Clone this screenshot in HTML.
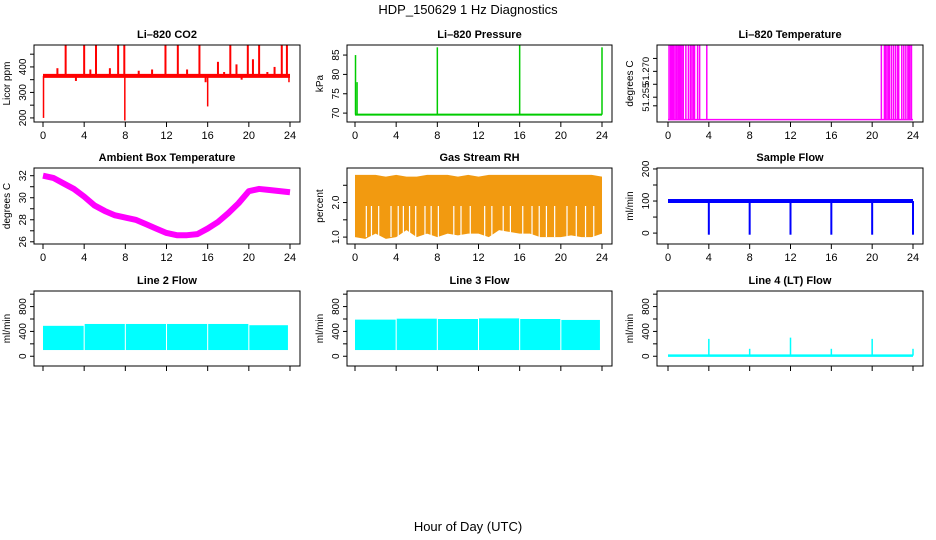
<!DOCTYPE html>
<html><head><meta charset="utf-8"><style>
body{margin:0;background:#fff}
svg{display:block;font-family:"Liberation Sans",Arial,sans-serif}
</style></head><body>
<svg id="c" width="936" height="540" viewBox="0 0 936 540">
<text x="468" y="14" font-size="13" text-anchor="middle">HDP_150629  1 Hz Diagnostics</text>
<text x="468" y="531" font-size="13" text-anchor="middle">Hour of Day (UTC)</text>
</svg>
<script>
// ---- data ----
const xTicks=[0,4,8,12,16,20,24];
const co2Base=365;
const co2SpikeHours=[2.2,4.0,5.15,7.3,7.9,11.9,13.1,15.2,18.2,19.9,21.0,23.2,23.7];
const co2SpikeVals=[485,485,485,485,485,485,485,485,485,485,485,485,485];
const co2DipHours=[0.05,7.95,16.0,23.9];
const co2DipVals=[200,190,245,340];
const co2SmallHours=[1.4,3.2,4.6,6.5,9.3,10.6,14.0,15.8,17.0,17.6,18.8,19.3,20.4,21.8,22.5];
const co2SmallVals=[395,345,390,395,385,390,390,340,420,380,410,350,430,380,400];
const presBase=69.6;
const presSpikeHours=[0.05,0.2,8.0,16.0,24.0];
const presSpikeVals=[85,78,87,87.5,87];
const tempLow=51.242, tempHigh=51.285;
const tempSpikeHours=[0.1,0.25,0.35,0.45,0.55,0.7,0.85,1.0,1.1,1.2,1.35,1.5,1.75,2.0,2.2,2.35,2.5,2.6,2.9,3.1,3.8,20.9,21.2,21.3,21.45,21.6,21.7,21.9,22.1,22.3,22.5,22.6,22.9,23.1,23.3,23.5,23.6,23.7,23.85];
const ambHours=[0,1,2,3,4,5,6,7,8,9,10,11,12,13,14,15,16,17,18,19,20,21,22,23,24];
const ambVals=[32.0,31.8,31.3,30.8,30.1,29.3,28.8,28.4,28.2,28.0,27.6,27.2,26.8,26.6,26.6,26.7,27.2,27.8,28.6,29.5,30.6,30.8,30.7,30.6,30.5];
const rhHours=[0,1,2,3,4,5,6,7,8,9,10,11,12,13,14,15,16,17,18,19,20,21,22,23,24];
const rhLow=[1.0,0.95,1.1,0.95,1.0,1.2,1.0,1.1,1.0,1.1,1.05,1.1,1.1,1.0,1.2,1.15,1.1,1.1,1.0,1.0,1.0,1.05,1.0,1.0,1.1];
const rhHigh=[2.8,2.8,2.8,2.75,2.8,2.75,2.75,2.8,2.8,2.8,2.75,2.8,2.75,2.8,2.8,2.8,2.8,2.8,2.8,2.8,2.8,2.8,2.8,2.8,2.75];
const rhGapHours=[1.1,1.6,2.3,3.5,4.2,4.7,5.3,5.9,6.8,7.4,8.1,9.6,10.3,11.2,12.6,13.3,14.4,15.1,16.3,17.2,17.9,18.6,19.4,20.6,21.5,22.4,23.2];
const flowBase=100;
const flowDipHours=[4,8,12,16,20,24];
const flowDipVals=[-5,-5,-5,-5,-5,-5];
const blockStarts=[0,4.05,8.05,12.05,16.05,20.05];
const blockEnds=[3.95,7.95,11.95,15.95,19.95,23.8];
const line2Tops=[490,520,520,520,520,500];
const line3Tops=[590,605,600,610,600,585];
const blockBottom=100;
const l4Base=10;
const l4SpikeHours=[4,8,12,16,20,24];
const l4SpikeVals=[280,120,300,120,280,120];

// ---- layout ----
const svg=document.getElementById('c');
const NS='http://www.w3.org/2000/svg';
const cols=[{bl:34,br:300,x0:43,x24:290},{bl:347,br:612,x0:355,x24:602},{bl:657,br:923,x0:668,x24:913}];
const rows=[{t:45,b:122},{t:168,b:244},{t:291,b:366}];
function el(tag,attrs,parent){const e=document.createElementNS(NS,tag);for(const k in attrs)e.setAttribute(k,attrs[k]);(parent||svg).appendChild(e);return e;}

function panel(ci,ri,name,title,ylab,ymin,ymax,yticks,ylabels,showX,yfs){
  const c=cols[ci],r=rows[ri];
  const fs=yfs||10;
  const g=el('g',{});
  
  
  const X=h=>c.x0+(c.x24-c.x0)*h/24;
  const Y=v=>r.b-(v-ymin)/(ymax-ymin)*(r.b-r.t);
  const t=el('text',{x:(c.bl+c.br)/2,y:r.t-7,'font-size':11,'font-weight':'bold','text-anchor':'middle'},g);t.textContent=title;
  
  
  const plot=el('g',{},g);
  
  
  const cp='clip'+ci+ri;
  const cl=el('clipPath',{id:cp},g);el('rect',{x:c.bl,y:r.t,width:c.br-c.bl,height:r.b-r.t},cl);
  plot.setAttribute('clip-path','url(#'+cp+')');
  const box=el('rect',{x:c.bl,y:r.t,width:c.br-c.bl,height:r.b-r.t,fill:'none',stroke:'#000','stroke-width':1},g);
  
  
  const xa=el('g',{},g);
  
  
  xTicks.forEach(h=>{
    el('line',{x1:X(h),x2:X(h),y1:r.b,y2:r.b+5,stroke:'#000'},xa);
    if(showX){const tx=el('text',{x:X(h),y:r.b+17,'font-size':11,'text-anchor':'middle'},xa);tx.textContent=h;}
  });
  const ya=el('g',{},g);
  
  
  yticks.forEach((v,i)=>{
    const y=Y(v);
    el('line',{x1:c.bl-4,x2:c.bl,y1:y,y2:y,stroke:'#000'},ya);
    if(ylabels[i]!==''){const tx=el('text',{x:c.bl-8,y:y,'font-size':fs,'text-anchor':'middle',transform:'rotate(-90 '+(c.bl-8)+' '+y+')'},ya);tx.textContent=ylabels[i];}
  });
  const yl=el('text',{x:c.bl-24,y:(r.t+r.b)/2,'font-size':10,'text-anchor':'middle',transform:'rotate(-90 '+(c.bl-24)+' '+(r.t+r.b)/2+')'},g);yl.textContent=ylab;
  
  
  return {X,Y,plot};
}
function vline(p,h,v1,v2,col,w){return el('line',{x1:p.X(h),x2:p.X(h),y1:p.Y(v1),y2:p.Y(v2),stroke:col,'stroke-width':w||1.5},p.plot);}
function hline(p,h1,h2,v,col,w){return el('line',{x1:p.X(h1),x2:p.X(h2),y1:p.Y(v),y2:p.Y(v),stroke:col,'stroke-width':w||1},p.plot);}

let p=panel(0,0,'co2','Li\u2013820 CO2','Licor ppm',184,486,[200,250,300,350,400,450],['200','','300','','400',''],true);
hline(p,0,24,co2Base,'#f00',4);
co2SmallHours.forEach((h,i)=>vline(p,h,co2Base,co2SmallVals[i],'#f00',2));
co2SpikeHours.forEach((h,i)=>vline(p,h,co2Base,co2SpikeVals[i],'#f00',2));
co2DipHours.forEach((h,i)=>vline(p,h,co2Base,co2DipVals[i],'#f00',1.5));

p=panel(1,0,'pressure','Li\u2013820 Pressure','kPa',67.7,87.6,[70,75,80,85],['70','75','80','85'],true);
hline(p,0,24,presBase,'#0c0',2);
presSpikeHours.forEach((h,i)=>vline(p,h,presBase,presSpikeVals[i],'#0c0',1.5));

p=panel(2,0,'li820-temperature','Li\u2013820 Temperature','degrees C',51.2406,51.2853,[51.25,51.255,51.2625,51.27,51.2775],['','51.255','','51.270',''],true,9.5);
hline(p,0,24,tempLow,'#f0f',1.5);
tempSpikeHours.forEach(h=>vline(p,h,tempLow,tempHigh,'#f0f',1.5));

p=panel(0,1,'ambient-temperature','Ambient Box Temperature','degrees C',25.8,32.7,[26,27,28,29,30,31,32],['26','','28','','30','','32'],true);
el('polyline',{points:ambHours.map((h,i)=>p.X(h)+','+p.Y(ambVals[i])).join(' '),fill:'none',stroke:'#f0f','stroke-width':6,'stroke-linejoin':'round'},p.plot);

p=panel(1,1,'gas-stream-rh','Gas Stream RH','percent',0.8,3.0,[1.0,1.5,2.0,2.5],['1.0','','2.0',''],true);
el('polygon',{points:rhHours.map((h,i)=>p.X(h)+','+p.Y(rhHigh[i])).concat(rhHours.slice().reverse().map((h,j)=>p.X(h)+','+p.Y(rhLow[rhHours.length-1-j]))).join(' '),fill:'#f29a10'},p.plot);
rhGapHours.forEach(h=>vline(p,h,1.0,1.9,'#fff',1.2));

p=panel(2,1,'sample-flow','Sample Flow','ml/min',-34,203,[0,50,100,150,200],['0','','100','','200'],true);
hline(p,0,24,flowBase,'#00f',4);
flowDipHours.forEach((h,i)=>vline(p,h,flowBase,flowDipVals[i],'#00f',2));

p=panel(0,2,'line-2-flow','Line 2 Flow','ml/min',-157,1051,[0,200,400,600,800,1000],['0','','400','','800',''],false);
blockStarts.forEach((s,i)=>el('rect',{x:p.X(s),y:p.Y(line2Tops[i]),width:p.X(blockEnds[i])-p.X(s),height:p.Y(blockBottom)-p.Y(line2Tops[i]),fill:'#0ff'},p.plot));

p=panel(1,2,'line-3-flow','Line 3 Flow','ml/min',-157,1051,[0,200,400,600,800,1000],['0','','400','','800',''],false);
blockStarts.forEach((s,i)=>el('rect',{x:p.X(s),y:p.Y(line3Tops[i]),width:p.X(blockEnds[i])-p.X(s),height:p.Y(blockBottom)-p.Y(line3Tops[i]),fill:'#0ff'},p.plot));

p=panel(2,2,'line-4-flow','Line 4 (LT) Flow','ml/min',-157,1051,[0,200,400,600,800,1000],['0','','400','','800',''],false);
hline(p,0,24,l4Base,'#0ff',2.5);
l4SpikeHours.forEach((h,i)=>vline(p,h,l4Base,l4SpikeVals[i],'#0ff',1.5));
</script>
</body></html>
